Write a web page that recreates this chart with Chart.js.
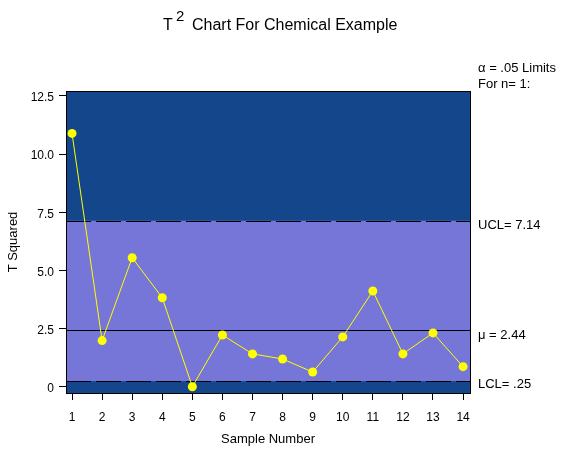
<!DOCTYPE html>
<html>
<head>
<meta charset="utf-8">
<script src="https://cdn.jsdelivr.net/npm/chart.js@4/dist/chart.umd.min.js"></script>
<style>
  html, body { margin: 0; padding: 0; background: #fff; }
  #wrap { width: 565px; height: 450px; }
</style>
</head>
<body>
<div id="wrap"><canvas id="c" width="565" height="450"></canvas></div>
<script>
// data
const samples = [1, 2, 3, 4, 5, 6, 7, 8, 9, 10, 11, 12, 13, 14];
const tSquared = [10.89, 1.99, 5.55, 3.83, 0.01, 2.23, 1.42, 1.20, 0.64, 2.15, 4.12, 1.42, 2.32, 0.87];
const ucl = 7.14;
const mean = 2.44;
const lcl = 0.25;
const yTicks = [0, 2.5, 5, 7.5, 10, 12.5];
const yTickLabels = ['0', '2.5', '5.0', '7.5', '10.0', '12.5'];
const limitLabels = { ucl: 'UCL= 7.14', mean: '\u03BC = 2.44', lcl: 'LCL= .25' };

const FONT = '"Liberation Sans", Arial, sans-serif';
const DARK = '#13468a';
const LIGHT = '#7676d8';

// background bands, limit lines, frame and side texts
const controlPlugin = {
  id: 'control',
  beforeDatasetsDraw(chart) {
    const { ctx, chartArea: a, scales: { y } } = chart;
    ctx.save();
    ctx.fillStyle = DARK;
    ctx.fillRect(a.left, a.top, a.right - a.left, a.bottom - a.top);
    const yU = y.getPixelForValue(ucl), yL = y.getPixelForValue(lcl);
    ctx.fillStyle = LIGHT;
    ctx.fillRect(a.left, yU, a.right - a.left, yL - yU);

    ctx.strokeStyle = '#000';
    ctx.lineWidth = 1;
    // dashed limits
    ctx.setLineDash([25, 5]);
    [yU, yL].forEach(py => {
      const p = Math.round(py) + 0.5;
      ctx.beginPath();
      ctx.moveTo(a.left, p);
      ctx.lineTo(a.right, p);
      ctx.stroke();
    });
    ctx.setLineDash([]);
    const yM = Math.round(y.getPixelForValue(mean)) + 0.5;
    ctx.beginPath();
    ctx.moveTo(a.left, yM);
    ctx.lineTo(a.right, yM);
    ctx.stroke();
    ctx.restore();
  },
  afterDraw(chart) {
    const { ctx, chartArea: a, scales: { y } } = chart;
    ctx.save();
    ctx.strokeStyle = '#000';
    ctx.lineWidth = 1;
    ctx.strokeRect(Math.round(a.left) + 0.5, Math.round(a.top) + 0.5,
      Math.round(a.right - a.left), Math.round(a.bottom - a.top));

    // side labels
    ctx.fillStyle = '#000';
    ctx.font = '13px ' + FONT;
    ctx.textBaseline = 'middle';
    ctx.textAlign = 'left';
    const tx = a.right + 8;
    ctx.fillText('\u03B1 = .05 Limits', tx, 68);
    ctx.fillText('For n= 1:', tx, 84);
    ctx.fillText(limitLabels.ucl, tx, y.getPixelForValue(ucl) + 5);
    ctx.fillText(limitLabels.mean, tx, y.getPixelForValue(mean) + 5);
    ctx.fillText(limitLabels.lcl, tx, y.getPixelForValue(lcl) + 3);

    // title with superscript
    ctx.textBaseline = 'alphabetic';
    ctx.font = '16px ' + FONT;
    ctx.fillText('T', 163, 30);
    ctx.font = '15px ' + FONT;
    ctx.fillText('2', 176, 21);
    ctx.font = '16px ' + FONT;
    ctx.fillText('Chart For Chemical Example', 192, 30);
    ctx.restore();
  }
};

new Chart(document.getElementById('c'), {
  type: 'line',
  data: {
    datasets: [{
      data: samples.map((s, i) => ({ x: s, y: tSquared[i] })),
      borderColor: '#ffff00',
      backgroundColor: '#ffff00',
      borderWidth: 1,
      pointRadius: 4.5,
      pointBorderWidth: 0,
      tension: 0,
      fill: false
    }]
  },
  options: {
    responsive: false,
    animation: false,
    layout: { padding: { top: 91, right: 95, left: 0, bottom: 0 } },
    plugins: { legend: { display: false }, tooltip: { enabled: false }, title: { display: false } },
    scales: {
      x: {
        type: 'linear',
        min: 0.8,
        max: 14.23,
        afterBuildTicks(scale) { scale.ticks = samples.map(v => ({ value: v })); },
        afterFit(scale) { scale.height = 57; },
        grid: { display: true, drawOnChartArea: false, drawTicks: true, tickLength: 7, color: '#000' },
        border: { display: true, color: '#000' },
        ticks: { color: '#000', font: { family: FONT, size: 12 }, padding: 10, maxRotation: 0,
          callback: v => String(v) },
        title: { display: true, text: 'Sample Number', color: '#000', font: { family: FONT, size: 13 }, padding: { top: 6, bottom: 3 } }
      },
      y: {
        min: -0.26,
        max: 12.71,
        afterBuildTicks(scale) { scale.ticks = yTicks.map(v => ({ value: v })); },
        afterFit(scale) { scale.width = 66; },
        grid: { display: true, drawOnChartArea: false, drawTicks: true, tickLength: 7, color: '#000' },
        border: { display: true, color: '#000' },
        ticks: { color: '#000', font: { family: FONT, size: 12 }, padding: 5, labelOffset: 2,
          callback: (v, i) => yTickLabels[i] },
        title: { display: true, text: 'T Squared', color: '#000', font: { family: FONT, size: 13 }, padding: { top: 6, bottom: 0 } }
      }
    }
  },
  plugins: [controlPlugin]
});
</script>
</body>
</html>
